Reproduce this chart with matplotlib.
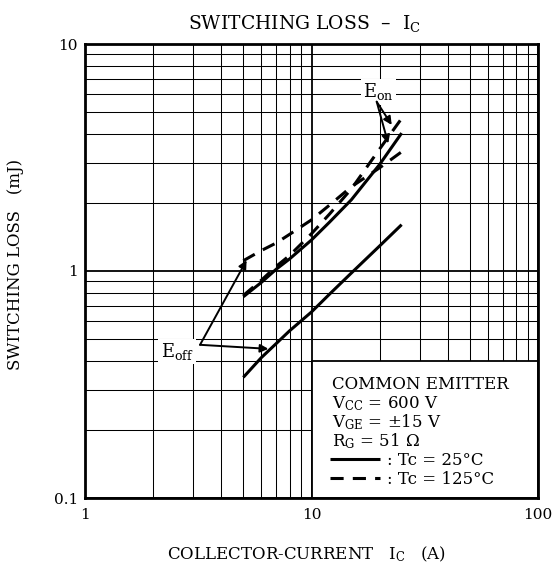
import matplotlib
matplotlib.use("Agg")
import matplotlib.pyplot as plt
from matplotlib.patches import Rectangle
from matplotlib.ticker import NullFormatter, LogLocator

# collector current (A)
ic = [5, 6, 7, 8, 10, 12, 15, 20, 25]

# switching loss (mJ)
eoff_25 = [0.34, 0.415, 0.48, 0.545, 0.66, 0.79, 0.98, 1.29, 1.60]
eon_25 = [0.77, 0.89, 1.02, 1.13, 1.37, 1.64, 2.06, 2.95, 4.05]
eoff_125 = [1.11, 1.23, 1.33, 1.45, 1.68, 1.95, 2.35, 2.85, 3.35]
eon_125 = [0.78, 0.91, 1.05, 1.17, 1.46, 1.78, 2.30, 3.45, 4.7]

x_ticks = [1, 10, 100]
x_labels = ["1", "10", "100"]
y_ticks = [0.1, 1, 10]
y_labels = ["0.1", "1", "10"]

header = [
    "COMMON EMITTER",
    r"$\mathregular{V_{CC}}$ = 600 V",
    r"$\mathregular{V_{GE}}$ = ±15 V",
    r"$\mathregular{R_G}$ = 51 Ω",
]

plt.rcParams["font.family"] = ["DejaVu Serif"]
plt.rcParams["mathtext.fontset"] = "dejavuserif"

W, H = 554, 567
fig = plt.figure(figsize=(W / 100, H / 100), dpi=100)
ax = fig.add_axes([85 / W, 69 / H, 453 / W, 454 / H])

ax.set_xscale("log")
ax.set_yscale("log")
ax.set_xlim(1, 100)
ax.set_ylim(0.1, 10)

ax.set_xticks(x_ticks, x_labels)
ax.set_yticks(y_ticks, y_labels)
ax.xaxis.set_minor_locator(LogLocator(subs=range(2, 10)))
ax.yaxis.set_minor_locator(LogLocator(subs=range(2, 10)))
ax.xaxis.set_minor_formatter(NullFormatter())
ax.yaxis.set_minor_formatter(NullFormatter())
ax.tick_params(which="both", length=0, labelsize=11)
ax.tick_params(axis="x", pad=7)
ax.tick_params(axis="y", pad=5)

ax.set_axisbelow(True)
ax.grid(which="major", color="black", lw=1.3)
ax.grid(which="minor", color="black", lw=0.75)
for s in ax.spines.values():
    s.set_linewidth(2)

lw = 2.2
dash = (4.3, 3.0)
l25, = ax.plot(ic, eoff_25, color="black", lw=lw, solid_capstyle="butt", zorder=3)
ax.plot(ic, eon_25, color="black", lw=lw, solid_capstyle="butt", zorder=3)
l125, = ax.plot(ic, eoff_125, color="black", lw=lw, dashes=dash, zorder=3)
ax.plot(ic, eon_125, color="black", lw=lw, dashes=dash, zorder=3)

# white area for the conditions box
ax.add_patch(Rectangle((10, 0.1), 90, 0.3, facecolor="white",
                       edgecolor="black", lw=1.3, zorder=2))

arrow = dict(arrowstyle="-|>", color="black", lw=1.4, mutation_scale=12,
             shrinkA=0, shrinkB=0)

ax.text(19.7, 6.15, r"$\mathregular{E_{on}}$", fontsize=13, ha="center",
        va="center", zorder=4,
        bbox=dict(facecolor="white", edgecolor="none", pad=1.5))
ax.annotate("", xy=(22.6, 4.40), xytext=(19.4, 5.57), arrowprops=arrow, zorder=4)
ax.annotate("", xy=(21.8, 3.65), xytext=(19.4, 5.57), arrowprops=arrow, zorder=4)

ax.text(2.55, 0.442, r"$\mathregular{E_{off}}$", fontsize=13, ha="center",
        va="center", zorder=4,
        bbox=dict(facecolor="white", edgecolor="none", pad=1.5))
ax.annotate("", xy=(5.17, 1.115), xytext=(3.22, 0.473), arrowprops=arrow, zorder=4)
ax.annotate("", xy=(6.45, 0.454), xytext=(3.22, 0.473), arrowprops=arrow, zorder=4)

# conditions text
tx = (332 - 85) / 453
for i, line in enumerate(header):
    ty = (498 - (389 + 19 * i)) / 454
    ax.text(tx, ty, line, transform=ax.transAxes, fontsize=12,
            va="baseline", ha="left", zorder=4)

ax.legend([l25, l125], [": Tc = 25°C", ": Tc = 125°C"],
          loc="upper left", bbox_to_anchor=((330 - 85) / 453, (498 - 452) / 454),
          frameon=False, fontsize=12, handlelength=3.0, handletextpad=0.4,
          labelspacing=0.1, borderpad=0, borderaxespad=0)

fig.text(305 / W, 1 - 29 / H, r"SWITCHING LOSS  –  $\mathregular{I_C}$",
         ha="center", va="baseline", fontsize=13.5)
fig.text(307 / W, 1 - 559 / H, r"COLLECTOR-CURRENT   $\mathregular{I_C}$   (A)",
         ha="center", va="baseline", fontsize=12)
fig.text(16 / W, 1 - 264 / H, "SWITCHING LOSS   (mJ)", rotation=90,
         ha="center", va="center", fontsize=12)

fig.savefig("out.png", dpi=100)
